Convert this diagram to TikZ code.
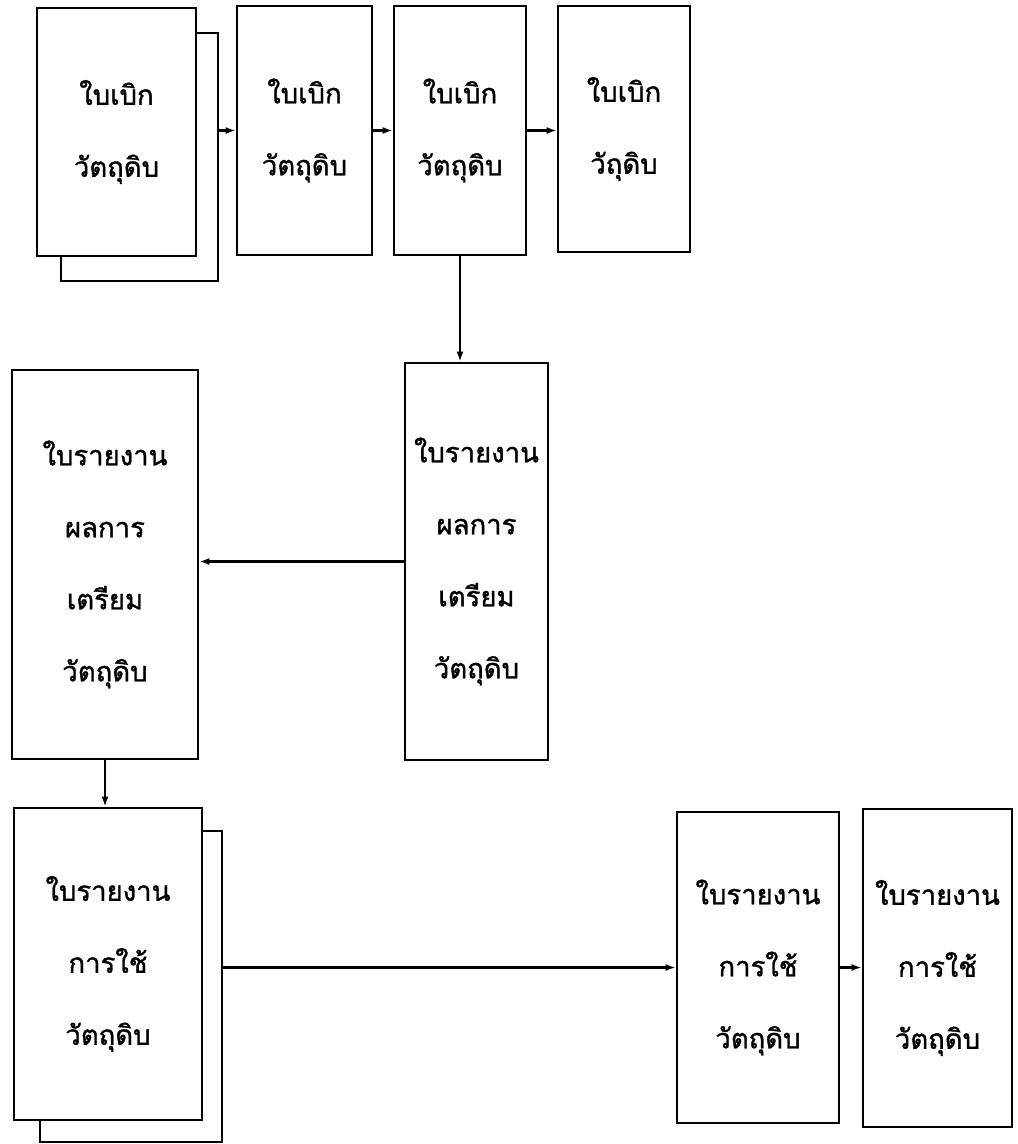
\documentclass[tikz,border=0pt]{standalone}
\usepackage{fontspec}
\newfontfamily\thaifont[Script=Thai,FakeBold=1.2]{Loma}
\usetikzlibrary{arrows.meta}
\begin{document}
\begin{tikzpicture}[x=1pt,y=-1pt,
  doc/.style={draw,line width=2.6pt,fill=white,inner sep=0pt,align=center,
    font=\thaifont\fontsize{27.5}{72}\selectfont},
  arr/.style={line width=2.2pt,-{Latex[length=10pt,width=7pt]}}]
\useasboundingbox (0,0) rectangle (1018,1144);
% requisition forms (top row)
\node[doc,minimum width=157,minimum height=248] (Aback) at (139.5,157) {};
\node[doc,minimum width=159,minimum height=248] (A) at (116.5,132) {ใบเบิก\\วัตถุดิบ};
\node[doc,minimum width=135,minimum height=249] (B) at (304.5,130.5) {ใบเบิก\\วัตถุดิบ};
\node[doc,minimum width=132,minimum height=249] (C) at (460,130.5) {ใบเบิก\\วัตถุดิบ};
\node[doc,minimum width=132,minimum height=246] (D) at (624,129) {ใบเบิก\\วัถุดิบ};
% preparation reports (middle row)
\node[doc,minimum width=143,minimum height=397] (E) at (476.5,561.5) {ใบรายงาน\\ผลการ\\เตรียม\\วัตถุดิบ};
\node[doc,minimum width=186,minimum height=389] (F) at (105,564.5) {ใบรายงาน\\ผลการ\\เตรียม\\วัตถุดิบ};
% usage reports (bottom row)
\node[doc,minimum width=182,minimum height=311] (Gback) at (131,986.5) {};
\node[doc,minimum width=188,minimum height=312] (G) at (108,964) {ใบรายงาน\\การใช้\\วัตถุดิบ};
\node[doc,minimum width=162,minimum height=311] (H) at (758,967.5) {ใบรายงาน\\การใช้\\วัตถุดิบ};
\node[doc,minimum width=149,minimum height=318] (I) at (937.5,968) {ใบรายงาน\\การใช้\\วัตถุดิบ};
% flow
\draw[arr] (B.west -| Aback.east) -- (B.west);
\draw[arr] (B.east) -- (C.west);
\draw[arr] (C.east) -- (C.east -| D.west);
\draw[arr] (C.south) -- (C.south |- E.north);
\draw[arr] (E.west) -- (E.west -| F.east);
\draw[arr] (F.south) -- (F.south |- G.north);
\draw[arr] (H.west -| Gback.east) -- (H.west);
\draw[arr] (H.east) -- (H.east -| I.west);
\end{tikzpicture}
\end{document}
